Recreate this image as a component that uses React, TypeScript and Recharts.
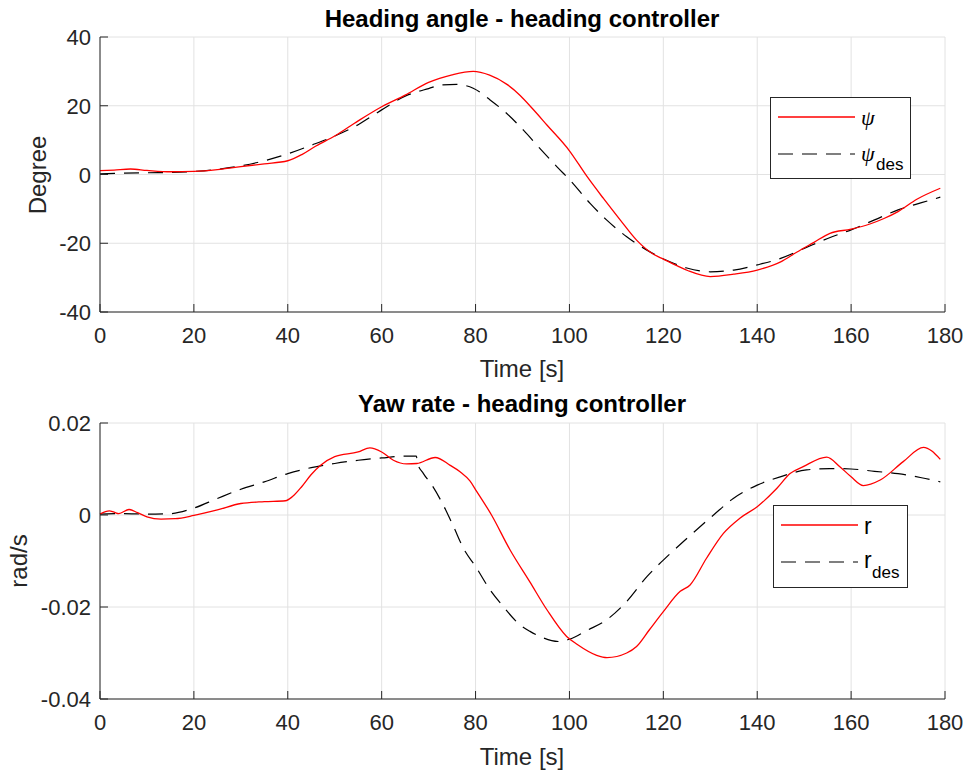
import React from 'react'
import { LineChart, Line, XAxis, YAxis, CartesianGrid } from 'recharts'

// ── Data ──────────────────────────────────────────────────────────────────────

const timeTicks = [0, 20, 40, 60, 80, 100, 120, 140, 160, 180]
const headingTicks = [-40, -20, 0, 20, 40]
const yawTicks = [-0.04, -0.02, 0, 0.02]

const psiTime = [0, 3, 6.5, 10, 15, 20, 25, 30, 35, 40, 43, 46, 50, 55, 60, 65, 70, 75, 79.5, 83, 86.6, 89.5, 92.3, 95.2, 100, 103.7, 107.2, 110.8, 114.3, 117.9, 120, 123, 125.3, 130, 135, 140, 145, 148.4, 152, 155.5, 160, 164, 167, 170, 174, 179]
const psiDeg = [1.1, 1.3, 1.6, 1.2, 0.8, 0.9, 1.4, 2.3, 3.1, 4.0, 5.8, 8.3, 11.2, 15.6, 19.7, 23.1, 26.8, 29.0, 30.0, 28.9, 26.3, 23.0, 18.9, 14.4, 6.9, -0.5, -6.9, -13.2, -19.1, -23.2, -24.6, -26.6, -28.0, -29.7, -29.0, -27.8, -25.4, -22.6, -19.8, -17.1, -15.9, -14.4, -12.8, -10.8, -7.2, -4.0]

const psiDesTime = [0, 5, 10, 15, 20, 25, 30, 35, 40, 45, 50, 55, 60, 65, 70, 73, 76, 79.5, 83.1, 86.6, 90.2, 93.7, 97.3, 100.1, 104.4, 107.9, 112.2, 116.5, 121.4, 125, 130, 135, 140, 145, 150, 155, 160, 165, 170, 175, 179]
const psiDesDeg = [0.2, 0.4, 0.5, 0.6, 0.9, 1.5, 2.5, 4.0, 6.0, 8.5, 11.2, 14.5, 18.8, 22.8, 25.0, 26.1, 26.2, 25.1, 21.7, 17.8, 12.9, 7.6, 2.3, -1.6, -8.4, -13.2, -18.1, -22.0, -25.4, -27.2, -28.3, -27.8, -26.3, -24.4, -21.5, -18.6, -16.1, -13.2, -10.3, -8.2, -6.6]

const rTime = [0, 2, 3, 4, 6.2, 8, 10, 13, 16, 20, 25, 30, 35, 39.5, 41, 43, 45, 47, 50, 55, 57.5, 60, 62.5, 65.3, 67.5, 71.4, 74.6, 76.7, 78.8, 80.2, 83.4, 87.3, 91.6, 95.2, 99.4, 101.6, 105.8, 108, 112.2, 114.3, 117, 120, 123.6, 125.7, 129.2, 132.8, 136.3, 140, 144.2, 147, 149.8, 154.8, 157.6, 160, 162.6, 166.2, 171.1, 175.4, 179]
const rVal = [0.0002, 0.0009, 0.0006, 0.0003, 0.0012, 0.0005, -0.0004, -0.0009, -0.0008, -0.0001, 0.0011, 0.0025, 0.0029, 0.0031, 0.004, 0.0062, 0.0088, 0.0108, 0.0127, 0.0137, 0.0146, 0.0137, 0.0119, 0.0111, 0.0112, 0.0125, 0.0108, 0.0094, 0.0074, 0.0052, 0, -0.0075, -0.0146, -0.0206, -0.0264, -0.0281, -0.0305, -0.031, -0.030, -0.0286, -0.025, -0.021, -0.0166, -0.0152, -0.0094, -0.004, -0.0007, 0.0018, 0.0058, 0.009, 0.0105, 0.0126, 0.0105, 0.0083, 0.0064, 0.0076, 0.0116, 0.0147, 0.0121]

const rDesTime = [0, 5, 10, 15, 20, 25, 30, 35, 40, 45, 50, 55, 60, 65, 67.4, 67.6, 68.9, 70.7, 73.1, 75.3, 77.4, 80.2, 83.1, 85.9, 89.5, 91.6, 93.7, 97.6, 100, 103.7, 107.9, 112.2, 116.5, 120, 125, 130.7, 134.9, 140, 144.9, 150.5, 155.5, 160, 165, 170, 175, 179]
const rDesVal = [0.0002, 0.0003, 0.0002, 0.0003, 0.0015, 0.0036, 0.0056, 0.0072, 0.009, 0.0103, 0.0112, 0.0119, 0.0124, 0.0128, 0.0128, 0.0114, 0.009, 0.0065, 0.0022, -0.0025, -0.0072, -0.0115, -0.0163, -0.0199, -0.0239, -0.0253, -0.0264, -0.0275, -0.027, -0.0251, -0.0228, -0.0188, -0.0134, -0.0098, -0.0051, 0, 0.0036, 0.0065, 0.0083, 0.0098, 0.0101, 0.01, 0.0095, 0.009, 0.0081, 0.0072]

const zip = (t: number[], v: number[]) => t.map((x, i) => ({ t: x, v: v[i] }))

// ── Styling ───────────────────────────────────────────────────────────────────

const FONT = '"Liberation Sans", Arial, sans-serif'
const INK = '#262626'
const GRID = '#e2e2e2'
const DASH = '15 9'

function XTick({ x, y, payload }: any) {
  return (
    <g>
      <line x1={x} y1={y} x2={x} y2={y - 8} stroke={INK} />
      <text x={x} y={y + 31} textAnchor="middle" fontSize={22} fill={INK} fontFamily={FONT}>
        {payload.value}
      </text>
    </g>
  )
}

function YTick({ x, y, payload }: any) {
  return (
    <g>
      <line x1={x} y1={y} x2={x + 8} y2={y} stroke={INK} />
      <text x={x - 9} y={y + 8} textAnchor="end" fontSize={22} fill={INK} fontFamily={FONT}>
        {String(payload.value)}
      </text>
    </g>
  )
}

function Panel({ top, height, margin, solid, dashed, ticks, domain }: {
  top: number; height: number; margin: { top: number; right: number; bottom: number; left: number }
  solid: { t: number; v: number }[]; dashed: { t: number; v: number }[]
  ticks: number[]; domain: [number, number]
}) {
  return (
    <div style={{ position: 'absolute', left: 0, top }}>
      <LineChart width={968} height={height} margin={margin}>
        <CartesianGrid stroke={GRID} strokeWidth={1} />
        <XAxis dataKey="t" type="number" domain={[0, 180]} ticks={timeTicks} height={40}
          tickSize={0} tickMargin={0} tickLine={false} tick={<XTick />}
          axisLine={{ stroke: INK }} interval={0} allowDuplicatedCategory={false} />
        <YAxis dataKey="v" type="number" domain={domain} ticks={ticks} width={60}
          tickSize={0} tickMargin={0} tickLine={false} tick={<YTick />}
          axisLine={{ stroke: INK }} interval={0} />
        <Line data={dashed} dataKey="v" type="monotone" stroke="#000" strokeWidth={1.2}
          strokeDasharray={DASH} dot={false} isAnimationActive={false} />
        <Line data={solid} dataKey="v" type="monotone" stroke="#ff0000" strokeWidth={1.3}
          dot={false} isAnimationActive={false} />
      </LineChart>
    </div>
  )
}

export default function App() {
  return (
    <div style={{ position: 'absolute', left: 0, top: 0, width: 968, height: 775, background: '#fff' }}>
      <Panel top={0} height={385} margin={{ top: 37, right: 23, bottom: 33, left: 40 }}
        solid={zip(psiTime, psiDeg)} dashed={zip(psiDesTime, psiDesDeg)}
        ticks={headingTicks} domain={[-40, 40]} />
      <Panel top={385} height={390} margin={{ top: 38, right: 23, bottom: 36, left: 40 }}
        solid={zip(rTime, rVal)} dashed={zip(rDesTime, rDesVal)}
        ticks={yawTicks} domain={[-0.04, 0.02]} />

      <svg width={968} height={775} style={{ position: 'absolute', left: 0, top: 0, pointerEvents: 'none' }}
        fontFamily={FONT} fill={INK}>
        <text x={522} y={27} textAnchor="middle" fontSize={24} fontWeight="bold" fill="#000">
          Heading angle - heading controller
        </text>
        <text x={522} y={412} textAnchor="middle" fontSize={24} fontWeight="bold" fill="#000">
          Yaw rate - heading controller
        </text>
        <text x={522} y={377} textAnchor="middle" fontSize={24}>Time [s]</text>
        <text x={522} y={765} textAnchor="middle" fontSize={24}>Time [s]</text>
        <text x={46} y={175} textAnchor="middle" fontSize={24} transform="rotate(-90 46 175)">Degree</text>
        <text x={27} y={561} textAnchor="middle" fontSize={24} transform="rotate(-90 27 561)">rad/s</text>

        <rect x={770.5} y={97.5} width={140} height={81} fill="#fff" stroke={INK} />
        <line x1={778} y1={117} x2={855} y2={117} stroke="#ff0000" strokeWidth={1.3} />
        <text x={861} y={125} fontSize={22} fontStyle="italic" fontFamily='"Liberation Serif", serif' fill="#000">ψ</text>
        <line x1={778} y1={154} x2={855} y2={154} stroke="#000" strokeWidth={1.2} strokeDasharray={DASH} />
        <text x={861} y={161} fontSize={22} fontStyle="italic" fontFamily='"Liberation Serif", serif' fill="#000">ψ</text>
        <text x={876} y={170} fontSize={17} fill="#000">des</text>

        <rect x={773.5} y={505.5} width={134} height={82} fill="#fff" stroke={INK} />
        <line x1={781} y1={525} x2={858} y2={525} stroke="#ff0000" strokeWidth={1.3} />
        <text x={864} y={534} fontSize={23} fill="#000">r</text>
        <line x1={781} y1={562} x2={858} y2={562} stroke="#000" strokeWidth={1.2} strokeDasharray={DASH} />
        <text x={864} y={568} fontSize={23} fill="#000">r</text>
        <text x={872} y={578} fontSize={17} fill="#000">des</text>
      </svg>
    </div>
  )
}
